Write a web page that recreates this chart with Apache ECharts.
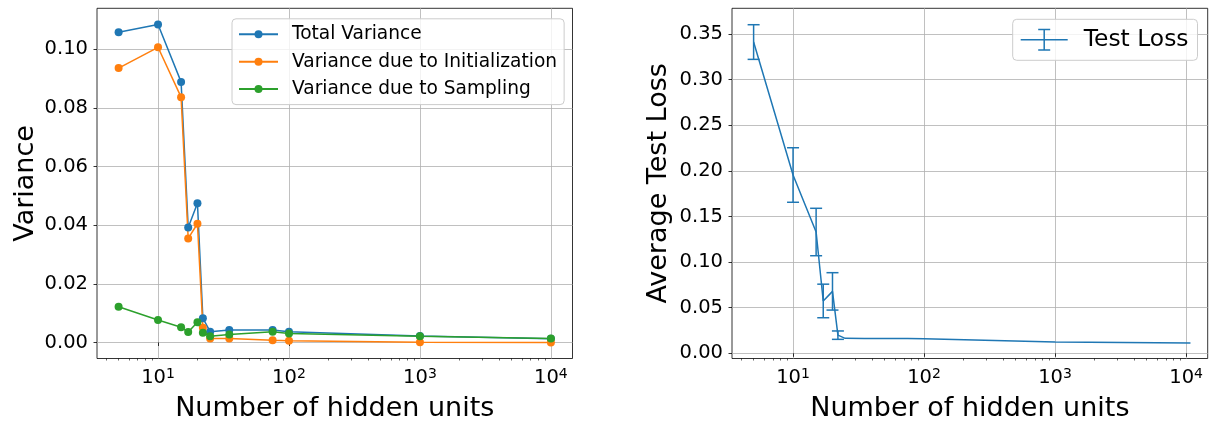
<!DOCTYPE html>
<html>
<head>
<meta charset="utf-8">
<script src="https://cdn.jsdelivr.net/npm/echarts@6/dist/echarts.min.js"></script>
<style>
  html, body { margin: 0; padding: 0; background: #fff; }
  #chart { width: 1211px; height: 423px; }
</style>
</head>
<body>
<div id="chart"></div>
<script>
// ---------- data ----------
const hiddenUnits = [5, 10, 15, 17, 20, 22, 25, 35, 75, 100, 1000, 10000];
const totalVariance = [0.1058, 0.1085, 0.0889, 0.0392, 0.0475, 0.0083, 0.0037, 0.0043, 0.0043, 0.0037, 0.0022, 0.0013];
const initVariance = [0.0936, 0.1007, 0.0837, 0.0355, 0.0405, 0.0050, 0.0014, 0.0014, 0.0008, 0.0006, 0.0001, 0.0000];
const samplingVariance = [0.0122, 0.0077, 0.0052, 0.0036, 0.0069, 0.0033, 0.0021, 0.0027, 0.0037, 0.0031, 0.0021, 0.0014];

const lossUnits = [5, 10, 15, 17, 20, 22, 25, 35, 75, 100, 1000, 10800];
const lossMean = [0.3413, 0.1955, 0.1330, 0.0574, 0.0679, 0.0199, 0.0164, 0.0163, 0.0161, 0.0160, 0.0124, 0.0113];
const lossErr = [0.0190, 0.0299, 0.0260, 0.0184, 0.0205, 0.0046, 0, 0, 0, 0, 0, 0];

const xMajorTicks = [10, 100, 1000, 10000];
const xMinorTicks = [4, 5, 6, 7, 8, 9, 20, 30, 40, 50, 60, 70, 80, 90,
  200, 300, 400, 500, 600, 700, 800, 900, 2000, 3000, 4000, 5000, 6000, 7000, 8000, 9000];
const yTicksVariance = [0, 0.02, 0.04, 0.06, 0.08, 0.10];
const yTicksLoss = [0, 0.05, 0.10, 0.15, 0.20, 0.25, 0.30, 0.35];

// ---------- style ----------
const FONT = 'DejaVu Sans';
const C_BLUE = '#1f77b4', C_ORANGE = '#ff7f0e', C_GREEN = '#2ca02c';
const X_MIN = 3.42, X_MAX = 14620;

function xMainAxis(gridIndex) {
  return {
    type: 'log', gridIndex: gridIndex, min: X_MIN, max: X_MAX, position: 'bottom',
    name: 'Number of hidden units', nameLocation: 'middle', nameGap: 37,
    nameTextStyle: { fontFamily: FONT, fontSize: 27, color: '#000' },
    axisLine: { show: false },
    axisTick: { show: true, inside: false, length: 3.5, customValues: xMajorTicks,
      lineStyle: { color: '#000', width: 0.8 } },
    axisLabel: { show: true, margin: 9, customValues: xMajorTicks,
      formatter: function (v) { return '{b|10}{s|' + Math.round(Math.log10(v)) + '}'; },
      rich: {
        b: { fontFamily: FONT, fontSize: 19.5, color: '#000' },
        s: { fontFamily: FONT, fontSize: 14, color: '#000', verticalAlign: 'top' }
      } },
    splitLine: { show: true, lineStyle: { color: '#b0b0b0', width: 0.8 } },
    minorTick: { show: false }, minorSplitLine: { show: false }
  };
}
function xMinorAxis(gridIndex) {
  return {
    type: 'log', gridIndex: gridIndex, min: X_MIN, max: X_MAX, position: 'bottom',
    axisLine: { show: false },
    axisTick: { show: true, inside: false, length: 2, customValues: xMinorTicks,
      lineStyle: { color: '#000', width: 0.6 } },
    axisLabel: { show: false }, splitLine: { show: false }
  };
}
function yAxisDef(gridIndex, min, max, ticks, name, gap) {
  return {
    type: 'value', gridIndex: gridIndex, min: min, max: max,
    name: name, nameLocation: 'middle', nameGap: gap,
    nameTextStyle: { fontFamily: FONT, fontSize: 27, color: '#000' },
    axisLine: { show: false },
    axisTick: { show: true, inside: false, length: 3.5, customValues: ticks,
      lineStyle: { color: '#000', width: 0.8 } },
    axisLabel: { show: true, margin: 9, customValues: ticks,
      fontFamily: FONT, fontSize: 19.5, color: '#000',
      formatter: function (v) { return v.toFixed(2); } },
    splitLine: { show: true, lineStyle: { color: '#b0b0b0', width: 0.8 } }
  };
}

function lineSeries(name, ys, color) {
  return {
    type: 'line', name: name, xAxisIndex: 0, yAxisIndex: 0,
    data: hiddenUnits.map(function (x, i) { return [x, ys[i]]; }),
    symbol: 'circle', symbolSize: 8, showSymbol: true,
    lineStyle: { color: color, width: 1.5 },
    itemStyle: { color: color, borderWidth: 0 },
    animation: false, clip: false
  };
}

const errData = lossUnits.map(function (x, i) { return [x, lossMean[i] - lossErr[i], lossMean[i] + lossErr[i]]; });

const errIcon = 'path://M0 10.25H47V11.75H0Z M22.75 0H24.25V22H22.75Z M17.5 0H29.5V1.5H17.5Z M17.5 20.5H29.5V22H17.5Z';

const option = {
  animation: false,
  backgroundColor: '#fff',
  textStyle: { fontFamily: FONT },
  grid: [
    { left: 97, top: 8.3, width: 475.5, height: 350.2, show: true, borderColor: '#000', borderWidth: 0.8, backgroundColor: 'transparent', containLabel: false, outerBoundsMode: 'none' },
    { left: 732, top: 8.3, width: 475.7, height: 350.2, show: true, borderColor: '#000', borderWidth: 0.8, backgroundColor: 'transparent', containLabel: false, outerBoundsMode: 'none' }
  ],
  xAxis: [xMainAxis(0), xMinorAxis(0), xMainAxis(1), xMinorAxis(1)],
  yAxis: [
    yAxisDef(0, -0.00546, 0.1140, yTicksVariance, 'Variance', 58),
    yAxisDef(1, -0.0057, 0.3783, yTicksLoss, 'Average Test Loss', 60)
  ],
  legend: [
    {
      data: ['Total Variance', 'Variance due to Initialization', 'Variance due to Sampling'],
      orient: 'vertical', left: 232, top: 18.8,
      itemWidth: 39, itemHeight: 10, itemGap: 8.4,
      padding: [6, 7, 6, 6],
      backgroundColor: 'rgba(255,255,255,0.8)', borderColor: '#cccccc', borderWidth: 1, borderRadius: 4,
      textStyle: { fontFamily: FONT, fontSize: 18.6, color: '#000', padding: [0, 0, 0, 9] },
      selectedMode: false
    },
    {
      data: [{ name: 'Test Loss', icon: errIcon }],
      left: 1012.7, top: 19.3,
      itemWidth: 47, itemHeight: 22,
      padding: [9, 9, 9, 8],
      itemStyle: { borderWidth: 0 },
      backgroundColor: 'rgba(255,255,255,0.8)', borderColor: '#cccccc', borderWidth: 1, borderRadius: 4,
      textStyle: { fontFamily: FONT, fontSize: 23.4, color: '#000', padding: [0, 0, 0, 11] },
      selectedMode: false
    }
  ],
  series: [
    lineSeries('Total Variance', totalVariance, C_BLUE),
    lineSeries('Variance due to Initialization', initVariance, C_ORANGE),
    lineSeries('Variance due to Sampling', samplingVariance, C_GREEN),
    {
      type: 'line', name: 'Test Loss', xAxisIndex: 2, yAxisIndex: 1,
      data: lossUnits.map(function (x, i) { return [x, lossMean[i]]; }),
      symbol: 'none', showSymbol: false,
      lineStyle: { color: C_BLUE, width: 1.5 },
      itemStyle: { color: C_BLUE },
      animation: false
    },
    {
      type: 'custom', name: 'errorbars', xAxisIndex: 2, yAxisIndex: 1,
      data: errData,
      encode: { x: 0, y: [1, 2] },
      renderItem: function (params, api) {
        const x = api.value(0);
        const lo = api.value(1), hi = api.value(2);
        if (hi - lo <= 0) { return null; }
        const pLo = api.coord([x, lo]);
        const pHi = api.coord([x, hi]);
        const cw = 6;
        const st = { stroke: C_BLUE, lineWidth: 1.5, fill: null };
        return { type: 'group', children: [
          { type: 'line', shape: { x1: pLo[0], y1: pLo[1], x2: pHi[0], y2: pHi[1] }, style: st },
          { type: 'line', shape: { x1: pLo[0] - cw, y1: pLo[1], x2: pLo[0] + cw, y2: pLo[1] }, style: st },
          { type: 'line', shape: { x1: pHi[0] - cw, y1: pHi[1], x2: pHi[0] + cw, y2: pHi[1] }, style: st }
        ] };
      },
      animation: false
    }
  ]
};

const chart = echarts.init(document.getElementById('chart'), null, { renderer: 'canvas' });
chart.setOption(option);
</script>
</body>
</html>
